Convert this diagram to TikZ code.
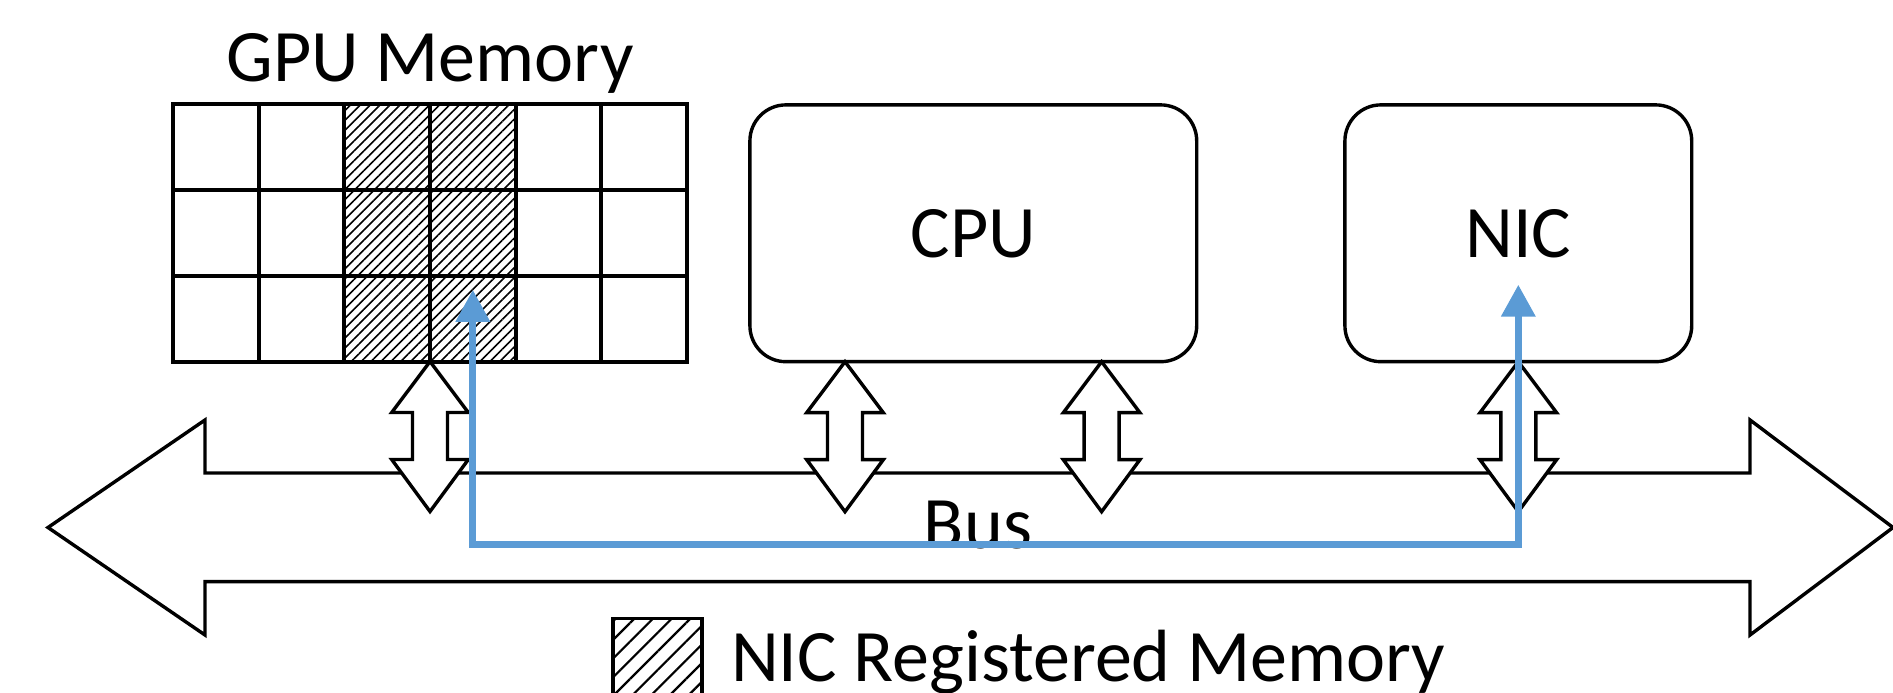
\documentclass[tikz,border=0pt]{standalone}
\usepackage{fontspec}
\setmainfont{Carlito}
\usetikzlibrary{patterns.meta,arrows.meta,calc}
\definecolor{flowblue}{HTML}{5B9BD5}
\begin{document}
\begin{tikzpicture}[x=0.25pt,y=-0.25pt,
  txt/.style={inner sep=0pt,outer sep=0pt,font=\fontsize{18.5}{22}\selectfont},
  cell/.style={draw,line width=1pt,minimum size=21.42pt,inner sep=0pt,outer sep=0pt},
  regcell/.style={cell,pattern={Lines[angle=45,distance=1.75pt,line width=0.4pt]}},
  unit/.style={draw,line width=0.85pt,rounded corners=9pt,inner sep=0pt,outer sep=0pt,
    minimum height=64.2pt,font=\fontsize{18.5}{22}\selectfont},
  busline/.style={draw,line width=0.85pt,line join=miter,fill=white},
  port/.style={draw,line width=0.85pt,line join=miter,fill=white},
  flow/.style={draw=flowblue,line width=1.75pt,
    {Triangle[width=8.25pt,length=8pt]}-{Triangle[width=8.25pt,length=8pt]}},
  busport/.pic={\path[port] (0,0) -- (38.3,51) -- (17.5,51) -- (17.5,98) -- (38.3,98)
     -- (0,150) -- (-38.3,98) -- (-17.5,98) -- (-17.5,51) -- (-38.3,51) -- cycle;}
]
\useasboundingbox (0,0) rectangle (1893,693);

% GPU memory: 3 x 6 pages, the middle two columns registered with the NIC
\foreach \r in {1,2,3}{
  \foreach \c in {1,2,5,6}{
    \node[cell] (m-\r-\c) at ({173+(\c-0.5)*85.67},{104.5+(\r-0.5)*85.67}) {};
  }
  \foreach \c in {3,4}{
    \node[regcell] (m-\r-\c) at ({173+(\c-0.5)*85.67},{104.5+(\r-0.5)*85.67}) {};
  }
}
\node[txt,anchor=base] (gpulabel) at (430,82) {GPU Memory};

% processors
\node[unit,minimum width=111.7pt] (cpu) at (973.3,233.3) {CPU};
\node[unit,minimum width=86.7pt] (nic) at (1518.3,233.3) {NIC};

% system bus
\path[busline] (48,527.5) -- (205,420) -- (205,473) -- (1750,473) -- (1750,420)
  -- (1893,527.5) -- (1750,635) -- (1750,581.7) -- (205,581.7) -- (205,635) -- cycle;
\node[txt,anchor=base] (buslabel) at (978,549) {Bus};

% bus attachments
\path (m-3-3.south east) pic {busport};
\path ($(cpu.south)+(-128.3,0)$) pic {busport};
\path ($(cpu.south)+(128.3,0)$) pic {busport};
\path (nic.south) pic {busport};

% direct NIC <-> GPU path
\coordinate (gtip) at ($(m-3-4.north)+(0,14)$);
\coordinate (ntip) at ($(nic.south)+(0,-77)$);
\coordinate (nfoot) at ($(nic.south)+(0,182.5)$);
\draw[flow] (gtip) |- (nfoot) -- (ntip);

% legend
\node[draw,line width=0.85pt,minimum size=22.2pt,inner sep=0pt,outer sep=0pt,
  pattern={Lines[angle=45,distance=3.3pt,line width=0.55pt]}] (legkey) at (657.4,662.7) {};
\node[txt,anchor=base west] (legtext) at (731,682) {NIC Registered Memory};
\end{tikzpicture}
\end{document}
